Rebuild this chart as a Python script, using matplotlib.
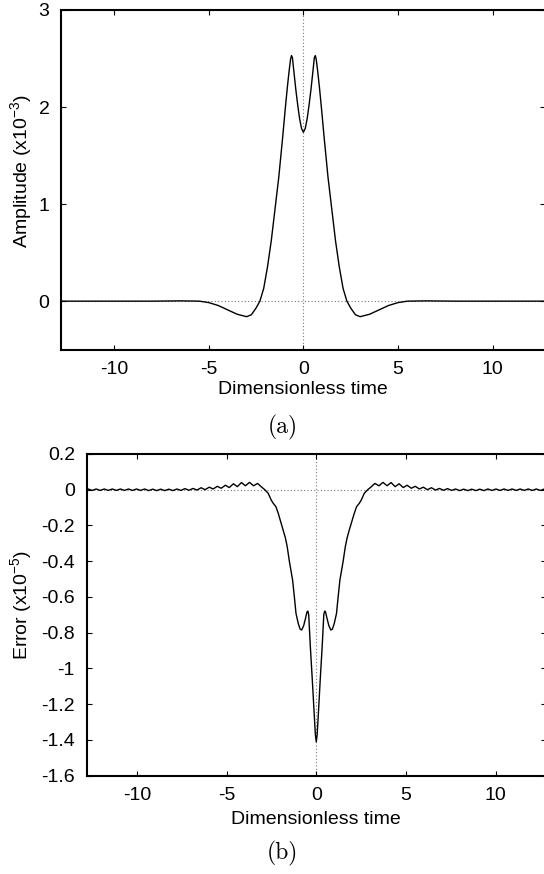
import matplotlib
matplotlib.use('Agg')
import matplotlib.pyplot as plt

plt.rcParams['font.family'] = ['Liberation Sans', 'DejaVu Sans']
plt.rcParams['axes.unicode_minus'] = False
plt.rcParams['mathtext.fontset'] = 'custom'
plt.rcParams['mathtext.rm'] = 'Liberation Sans'
plt.rcParams['mathtext.it'] = 'Liberation Sans:italic'
plt.rcParams['mathtext.default'] = 'regular'

# (a) amplitude (x1e-3) vs dimensionless time
time_a = [-12.8, -8.0, -6.5, -5.5, -5.0, -4.5, -4.0, -3.5, -3.0, -2.75, -2.5,
          -2.3, -2.1, -1.9, -1.7, -1.5, -1.3, -1.1, -0.95, -0.85, -0.75, -0.68,
          -0.63, -0.58, -0.5, -0.4, -0.3, -0.2, -0.1, 0.0,
          0.1, 0.2, 0.3, 0.4, 0.5, 0.58, 0.63, 0.68, 0.75, 0.85, 0.95, 1.1,
          1.3, 1.5, 1.7, 1.9, 2.1, 2.3, 2.5, 2.75, 3.0, 3.5, 4.0, 4.5, 5.0,
          5.5, 6.5, 8.0, 12.8]
amp_a = [0.0, 0.0, 0.003, 0.0, -0.015, -0.045, -0.09, -0.135, -0.16, -0.14, -0.07,
         0.0, 0.13, 0.35, 0.62, 0.95, 1.28, 1.68, 2.0, 2.2, 2.38, 2.49,
         2.53, 2.51, 2.36, 2.18, 2.02, 1.88, 1.78, 1.74,
         1.78, 1.88, 2.02, 2.18, 2.36, 2.51, 2.53, 2.49, 2.38, 2.2, 2.0, 1.68,
         1.28, 0.95, 0.62, 0.35, 0.13, 0.0, -0.07, -0.14, -0.16, -0.135, -0.09, -0.045, -0.015,
         0.0, 0.003, 0.0, 0.0]

# (b) error (x1e-5) vs dimensionless time
time_b = [-12.8, -12.72, -12.50, -12.27, -12.05, -11.82, -11.60, -11.37, -11.15,
          -10.92, -10.70, -10.47, -10.25, -10.02, -9.80, -9.57, -9.35, -9.12,
          -8.90, -8.67, -8.45, -8.22, -8.00, -7.77, -7.55, -7.32, -7.10, -6.87,
          -6.65, -6.42, -6.20, -5.97, -5.75, -5.52, -5.30, -5.07, -4.85, -4.62,
          -4.40, -4.17, -3.95, -3.72, -3.50, -3.27, -3.05, -2.87, -2.68, -2.50,
          -2.40, -2.25, -2.12, -1.98, -1.84, -1.72, -1.62, -1.50, -1.32, -1.22,
          -1.13, -1.00, -0.90, -0.81, -0.70, -0.60, -0.52, -0.47, -0.42, -0.33,
          -0.22, -0.12, -0.05, 0.0,
          0.05, 0.12, 0.22, 0.33, 0.42, 0.47, 0.52, 0.60, 0.70, 0.81, 0.90,
          1.00, 1.13, 1.22, 1.32, 1.50, 1.62, 1.72, 1.84, 1.98, 2.12, 2.25,
          2.40, 2.50, 2.68, 2.87, 3.05, 3.27, 3.50, 3.72, 3.95, 4.17, 4.40,
          4.62, 4.85, 5.07, 5.30, 5.52, 5.75, 5.97, 6.20, 6.42, 6.65, 6.87,
          7.10, 7.32, 7.55, 7.77, 8.00, 8.22, 8.45, 8.67, 8.90, 9.12, 9.35,
          9.57, 9.80, 10.02, 10.25, 10.47, 10.70, 10.92, 11.15, 11.37, 11.60,
          11.82, 12.05, 12.27, 12.50, 12.72, 12.8]
err_b = [0.0, 0.004, -0.004, 0.004, -0.004, 0.004, -0.004, 0.004, -0.004,
         0.004, -0.004, 0.004, -0.004, 0.004, -0.004, 0.004, -0.005, 0.003,
         -0.005, 0.003, -0.005, 0.003, -0.005, 0.004, -0.004, 0.006, -0.003, 0.007,
         -0.002, 0.011, 0.000, 0.014, 0.004, 0.019, 0.008, 0.025, 0.012, 0.033,
         0.017, 0.040, 0.022, 0.041, 0.022, 0.035, 0.015, 0.0, -0.02, -0.06,
         -0.076, -0.095, -0.132, -0.18, -0.226, -0.27, -0.319, -0.40, -0.505, -0.60,
         -0.692, -0.75, -0.78, -0.785, -0.76, -0.72, -0.685, -0.679, -0.70, -0.878,
         -1.065, -1.25, -1.37, -1.411,
         -1.37, -1.25, -1.065, -0.878, -0.70, -0.679, -0.685, -0.72, -0.76, -0.785, -0.78,
         -0.75, -0.692, -0.60, -0.505, -0.40, -0.319, -0.27, -0.226, -0.18, -0.132, -0.095,
         -0.076, -0.06, -0.02, 0.0, 0.015, 0.035, 0.022, 0.041, 0.022, 0.040, 0.017,
         0.033, 0.012, 0.025, 0.008, 0.019, 0.004, 0.014, 0.000, 0.011, -0.002, 0.007,
         -0.003, 0.006, -0.004, 0.004, -0.005, 0.003, -0.005, 0.003, -0.005, 0.003, -0.005,
         0.004, -0.004, 0.004, -0.004, 0.004, -0.004, 0.004, -0.004, 0.004, -0.004,
         0.004, -0.004, 0.004, -0.004, 0.004, 0.0]

xticks = [-10, -5, 0, 5, 10]
yticks_a = [0, 1, 2, 3]
yticks_b = [0.2, 0, -0.2, -0.4, -0.6, -0.8, -1, -1.2, -1.4, -1.6]
yticklabels_b = ['0.2', '0', '-0.2', '-0.4', '-0.6', '-0.8', '-1', '-1.2', '-1.4', '-1.6']

fig = plt.figure(figsize=(5.44, 8.74), dpi=100)
ax1 = fig.add_axes([0.1127, 0.5999, 0.890, 0.3887])
ax2 = fig.add_axes([0.1594, 0.1125, 0.8439, 0.3681])


def style_axes(ax):
    for s in ax.spines.values():
        s.set_linewidth(1.5)
    ax.tick_params(direction='in', length=3.8, width=0.8, top=True, right=True,
                   labelsize=14, pad=8.5)
    ax.axhline(0, color='#777777', lw=0.8, ls=(0, (1, 2)), zorder=1)
    ax.axvline(0, color='#777777', lw=0.8, ls=(0, (1, 2)), zorder=1)


style_axes(ax1)
ax1.plot(time_a, amp_a, color='black', lw=1.0, zorder=2)
ax1.set_xlim(-12.8, 12.8)
ax1.set_ylim(-0.5, 3)
ax1.set_xticks(xticks)
ax1.set_yticks(yticks_a)
ax1.set_xticklabels([str(v) for v in xticks])

style_axes(ax2)
ax2.plot(time_b, err_b, color='black', lw=1.0, zorder=2)
ax2.set_xlim(-12.8, 12.8)
ax2.set_ylim(-1.6, 0.2)
ax2.set_xticks(xticks)
ax2.set_xticklabels([str(v) for v in xticks])
ax2.set_yticks(yticks_b)
ax2.set_yticklabels(yticklabels_b)

fig.text(0.556, 0.5538, 'Dimensionless time', ha='center', va='center', fontsize=14)
fig.text(0.580, 0.0618, 'Dimensionless time', ha='center', va='center', fontsize=14)
fig.text(0.039, 1 - 171 / 874, 'Amplitude (x10$^{-3}$)', rotation=90,
         ha='center', va='center', fontsize=14)
fig.text(0.039, 1 - 605 / 874, 'Error (x10$^{-5}$)', rotation=90,
         ha='center', va='center', fontsize=14)
fig.text(0.52, 0.5114, '(a)', ha='center', va='center', fontsize=17, family='cmr10')
fig.text(0.52, 0.024, '(b)', ha='center', va='center', fontsize=17, family='cmr10')

fig.savefig('out.png', dpi=100)
